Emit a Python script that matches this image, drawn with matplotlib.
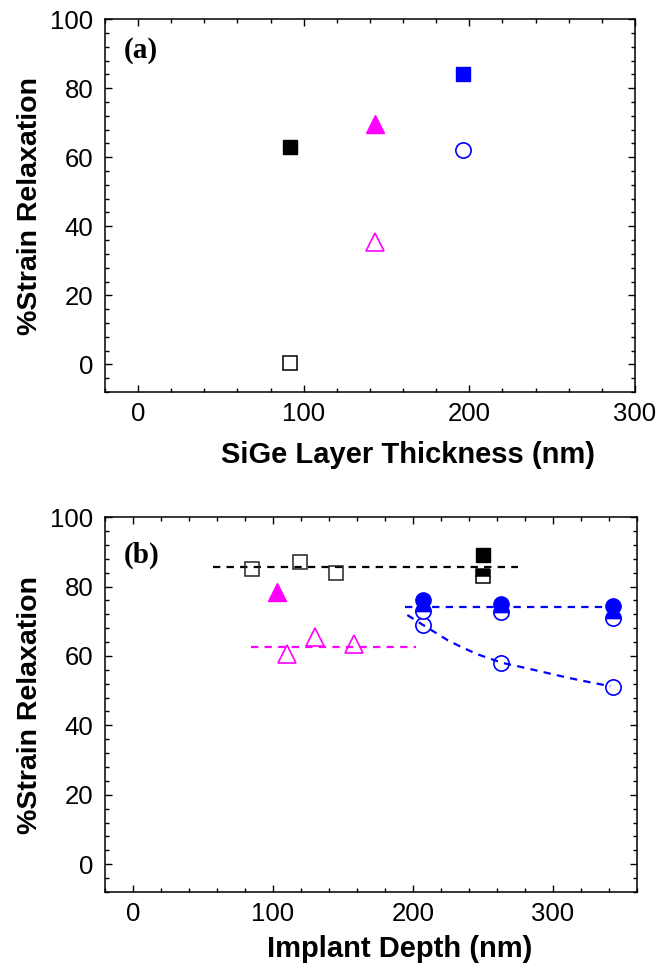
import matplotlib
matplotlib.use('Agg')
import matplotlib.pyplot as plt
from matplotlib.ticker import MultipleLocator

plt.rcParams['font.family'] = ['Liberation Sans', 'DejaVu Sans']

# ---- panel (a): relaxation vs SiGe layer thickness
a_open_sq_x = [92]
a_open_sq_y = [0.5]
a_fill_sq_x = [92]
a_fill_sq_y = [63]
a_open_tri_x = [143]
a_open_tri_y = [35.5]
a_fill_tri_x = [143]
a_fill_tri_y = [69.5]
a_open_circ_x = [196]
a_open_circ_y = [62]
a_blue_sq_x = [196]
a_blue_sq_y = [84]

# ---- panel (b): relaxation vs implant depth
b_open_sq_x = [85, 119, 145]
b_open_sq_y = [85, 87, 84]
b_fill_sq_x = [250]
b_fill_sq_y = [89]
b_half_sq_x = [250]
b_half_sq_y = [83]
b_fill_tri_x = [103]
b_fill_tri_y = [78.5]
b_open_tri_x = [110, 130, 158]
b_open_tri_y = [60.5, 65.5, 63.5]
b_fill_circ_x = [207, 263, 343]
b_fill_circ_y = [76, 75, 74.5]
b_half_circ_x = [207, 263, 343]
b_half_circ_y = [73, 72.8, 71]
b_open_circ_x = [207, 263, 343]
b_open_circ_y = [69, 58, 51]

# guide lines
black_line_x = [57, 275]
black_line_y = [85.6, 85.6]
magenta_line_x = [84, 202]
magenta_line_y = [62.5, 62.5]
blue_flat_x = [194, 345]
blue_flat_y = [74, 74]
blue_curve_x = [196, 207, 225, 234, 246, 264, 282, 297, 311, 328, 341]
blue_curve_y = [71.8, 69, 64.5, 62.7, 60.5, 58, 56.4, 55.0, 53.7, 52.3, 51.3]

MAG = '#FF00FF'
BLUE = '#0000FF'
DASH = (0, (3.3, 2.8))


def style_axes(ax, xmax):
	ax.set_xlim(-20, xmax)
	ax.set_ylim(-8, 100)
	ax.set_xticks([0, 100, 200, 300])
	ax.set_yticks([0, 20, 40, 60, 80, 100])
	ax.xaxis.set_minor_locator(MultipleLocator(20))
	ax.yaxis.set_minor_locator(MultipleLocator(4))
	ax.tick_params(which='both', direction='in', top=True, right=True, width=1.0)
	ax.tick_params(which='major', length=5, labelsize=18.5)
	ax.tick_params(axis='x', which='major', pad=7)
	ax.tick_params(axis='y', which='major', pad=8.5)
	ax.tick_params(which='minor', length=3)
	for s in ax.spines.values():
		s.set_linewidth(1.1)
	ax.set_ylabel('%Strain Relaxation', fontsize=20.5, fontweight='bold')
	ax.yaxis.set_label_coords(-0.1415, 0.5)
	ax.yaxis.label.set_va('center')


fig = plt.figure(figsize=(6.6, 9.71), dpi=100)
ax1 = fig.add_axes([0.159, 0.5963, 0.803, 0.384])
ax2 = fig.add_axes([0.159, 0.0814, 0.806, 0.386])

# panel (a)
ax1.plot(a_open_sq_x, a_open_sq_y, 's', ms=10, mfc='none', mec='black', mew=1.1)
ax1.plot(a_fill_sq_x, a_fill_sq_y, 's', ms=10, color='black')
ax1.plot(a_open_tri_x, a_open_tri_y, '^', ms=13, mfc='none', mec=MAG, mew=1.2)
ax1.plot(a_fill_tri_x, a_fill_tri_y, '^', ms=13, color=MAG)
ax1.plot(a_open_circ_x, a_open_circ_y, 'o', ms=11, mfc='none', mec=BLUE, mew=1.2)
ax1.plot(a_blue_sq_x, a_blue_sq_y, 's', ms=10, color=BLUE)
style_axes(ax1, 300)
ax1.set_xlabel('SiGe Layer Thickness (nm)', fontsize=21, fontweight='bold')
ax1.xaxis.set_label_coords(0.572, -0.169)
ax1.xaxis.label.set_va('center')
ax1.text(0.036, 0.917, '(a)', transform=ax1.transAxes, fontsize=21, fontweight='bold',
		family=['Liberation Serif', 'DejaVu Serif'], ha='left', va='center')

# panel (b)
ax2.plot(black_line_x, black_line_y, color='black', lw=1.6, ls=DASH, zorder=1)
ax2.plot(magenta_line_x, magenta_line_y, color=MAG, lw=1.6, ls=DASH, zorder=1)
ax2.plot(blue_flat_x, blue_flat_y, color=BLUE, lw=1.6, ls=DASH, zorder=1)
ax2.plot(blue_curve_x, blue_curve_y, color=BLUE, lw=1.6, ls=DASH, zorder=1)

ax2.plot(b_open_sq_x, b_open_sq_y, 's', ms=10, mfc='none', mec='#222222', mew=1.1)
ax2.plot(b_fill_sq_x, b_fill_sq_y, 's', ms=10, color='black')
ax2.plot(b_half_sq_x, b_half_sq_y, 's', ms=10, color='black', fillstyle='top',
		markerfacecoloralt='white', mew=1.1)
ax2.plot(b_fill_tri_x, b_fill_tri_y, '^', ms=13, color=MAG)
ax2.plot(b_open_tri_x, b_open_tri_y, '^', ms=13, mfc='none', mec=MAG, mew=1.2)
ax2.plot(b_open_circ_x, b_open_circ_y, 'o', ms=11, mfc='none', mec=BLUE, mew=1.2)
ax2.plot(b_half_circ_x, b_half_circ_y, 'o', ms=11, color=BLUE, fillstyle='top',
		markerfacecoloralt='white', mew=1.2)
ax2.plot(b_fill_circ_x, b_fill_circ_y, 'o', ms=11, color=BLUE)
style_axes(ax2, 360)
ax2.set_xlabel('Implant Depth (nm)', fontsize=21, fontweight='bold')
ax2.xaxis.set_label_coords(0.555, -0.152)
ax2.xaxis.label.set_va('center')
ax2.text(0.036, 0.899, '(b)', transform=ax2.transAxes, fontsize=21, fontweight='bold',
		family=['Liberation Serif', 'DejaVu Serif'], ha='left', va='center')

plt.savefig('out.png', dpi=100)
plt.close()
